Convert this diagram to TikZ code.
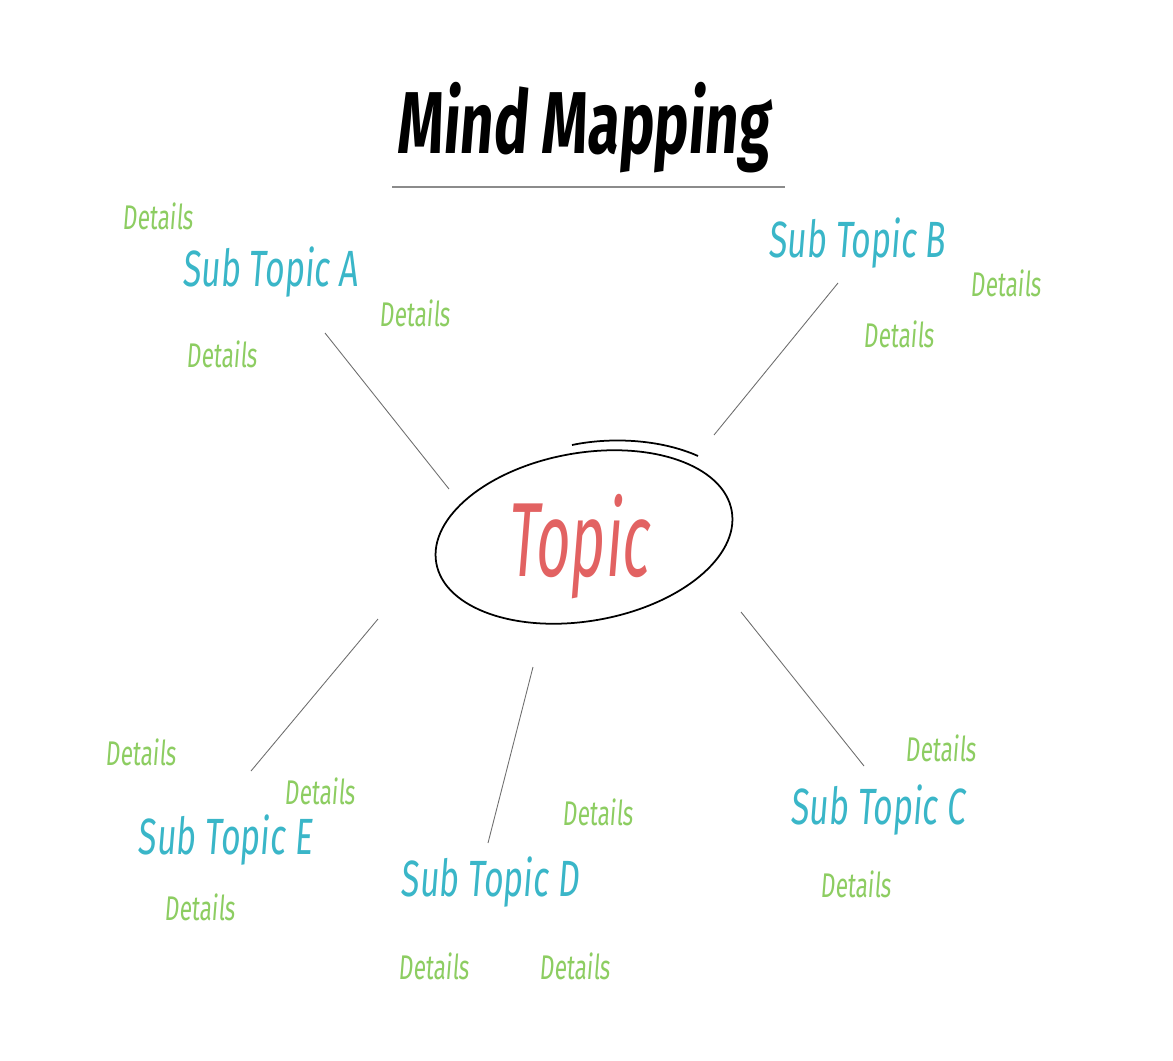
\documentclass[tikz,border=0pt]{standalone}
\usepackage{fontspec}
\setmainfont{Fira Sans}
\newfontfamily\handfont[FakeStretch=0.66,FakeSlant=0.08]{Fira Sans}
\newfontfamily\topicfont[FakeStretch=0.56,FakeSlant=0.08]{Fira Sans}
\usetikzlibrary{positioning}

\definecolor{topicred}{RGB}{226,98,98}
\definecolor{subteal}{RGB}{58,182,200}
\definecolor{detailgreen}{RGB}{141,205,98}
\definecolor{branchgray}{RGB}{110,110,110}

\tikzset{
  title/.style={font=\handfont\bfseries\fontsize{50}{58}\selectfont, text=black},
  topic/.style={font=\topicfont\fontsize{60}{66}\selectfont, text=topicred},
  subtopic/.style={font=\handfont\fontsize{29}{33}\selectfont, text=subteal},
  detail/.style={font=\handfont\fontsize{19.5}{22}\selectfont, text=detailgreen},
  branch/.style={draw=branchgray, line width=0.5pt},
}

\begin{document}
\begin{tikzpicture}[x=0.02cm, y=-0.02cm]

  \useasboundingbox (0,0) rectangle (1173,1061);

  \node[title] (title) at (583,128) {Mind Mapping};
  \coordinate (ul-l) at (392,187);
  \coordinate (ul-r) at (785,187);
  \draw[draw=branchgray!80, line width=1.2pt] (ul-l) -- (ul-r);

  \node[topic] (t) at (578,547) {Topic};
  \draw[line width=1pt, rotate around={10:(584,537)}] (584,537) ellipse [x radius=150, y radius=84];
  \draw[line width=1pt] (572,445) .. controls (610,437) and (660,439) .. (698,456);

  % sub topics
  \node[subtopic] (a) at (270,272) {Sub Topic A};
  \node[subtopic] (b) at (857,243) {Sub Topic B};
  \node[subtopic] (c) at (878,810) {Sub Topic C};
  \node[subtopic] (d) at (490,882) {Sub Topic D};
  \node[subtopic] (e) at (225,840) {Sub Topic E};

  % details
  \node[detail] (a1) at (158,216) {Details};
  \node[detail] (a2) at (415,313) {Details};
  \node[detail] (a3) at (222,354) {Details};
  \node[detail] (b1) at (1006,283) {Details};
  \node[detail] (b2) at (899,334) {Details};
  \node[detail] (c1) at (941,748) {Details};
  \node[detail] (c2) at (856,884) {Details};
  \node[detail] (d1) at (598,812) {Details};
  \node[detail] (d2) at (434,966) {Details};
  \node[detail] (d3) at (575,966) {Details};
  \node[detail] (e1) at (141,752) {Details};
  \node[detail] (e2) at (320,791) {Details};
  \node[detail] (e3) at (200,907) {Details};

  % branches
  \coordinate (ta) at (449,489);  \coordinate (at) at (325,333);
  \coordinate (tb) at (714,435);  \coordinate (bt) at (838,283);
  \coordinate (tc) at (741,612);  \coordinate (ct) at (864,766);
  \coordinate (td) at (533,667);  \coordinate (dt) at (488,843);
  \coordinate (te) at (378,619);  \coordinate (et) at (251,771);

  \draw[branch] (ta) -- (at);
  \draw[branch] (tb) -- (bt);
  \draw[branch] (tc) -- (ct);
  \draw[branch] (td) -- (dt);
  \draw[branch] (te) -- (et);

\end{tikzpicture}
\end{document}
